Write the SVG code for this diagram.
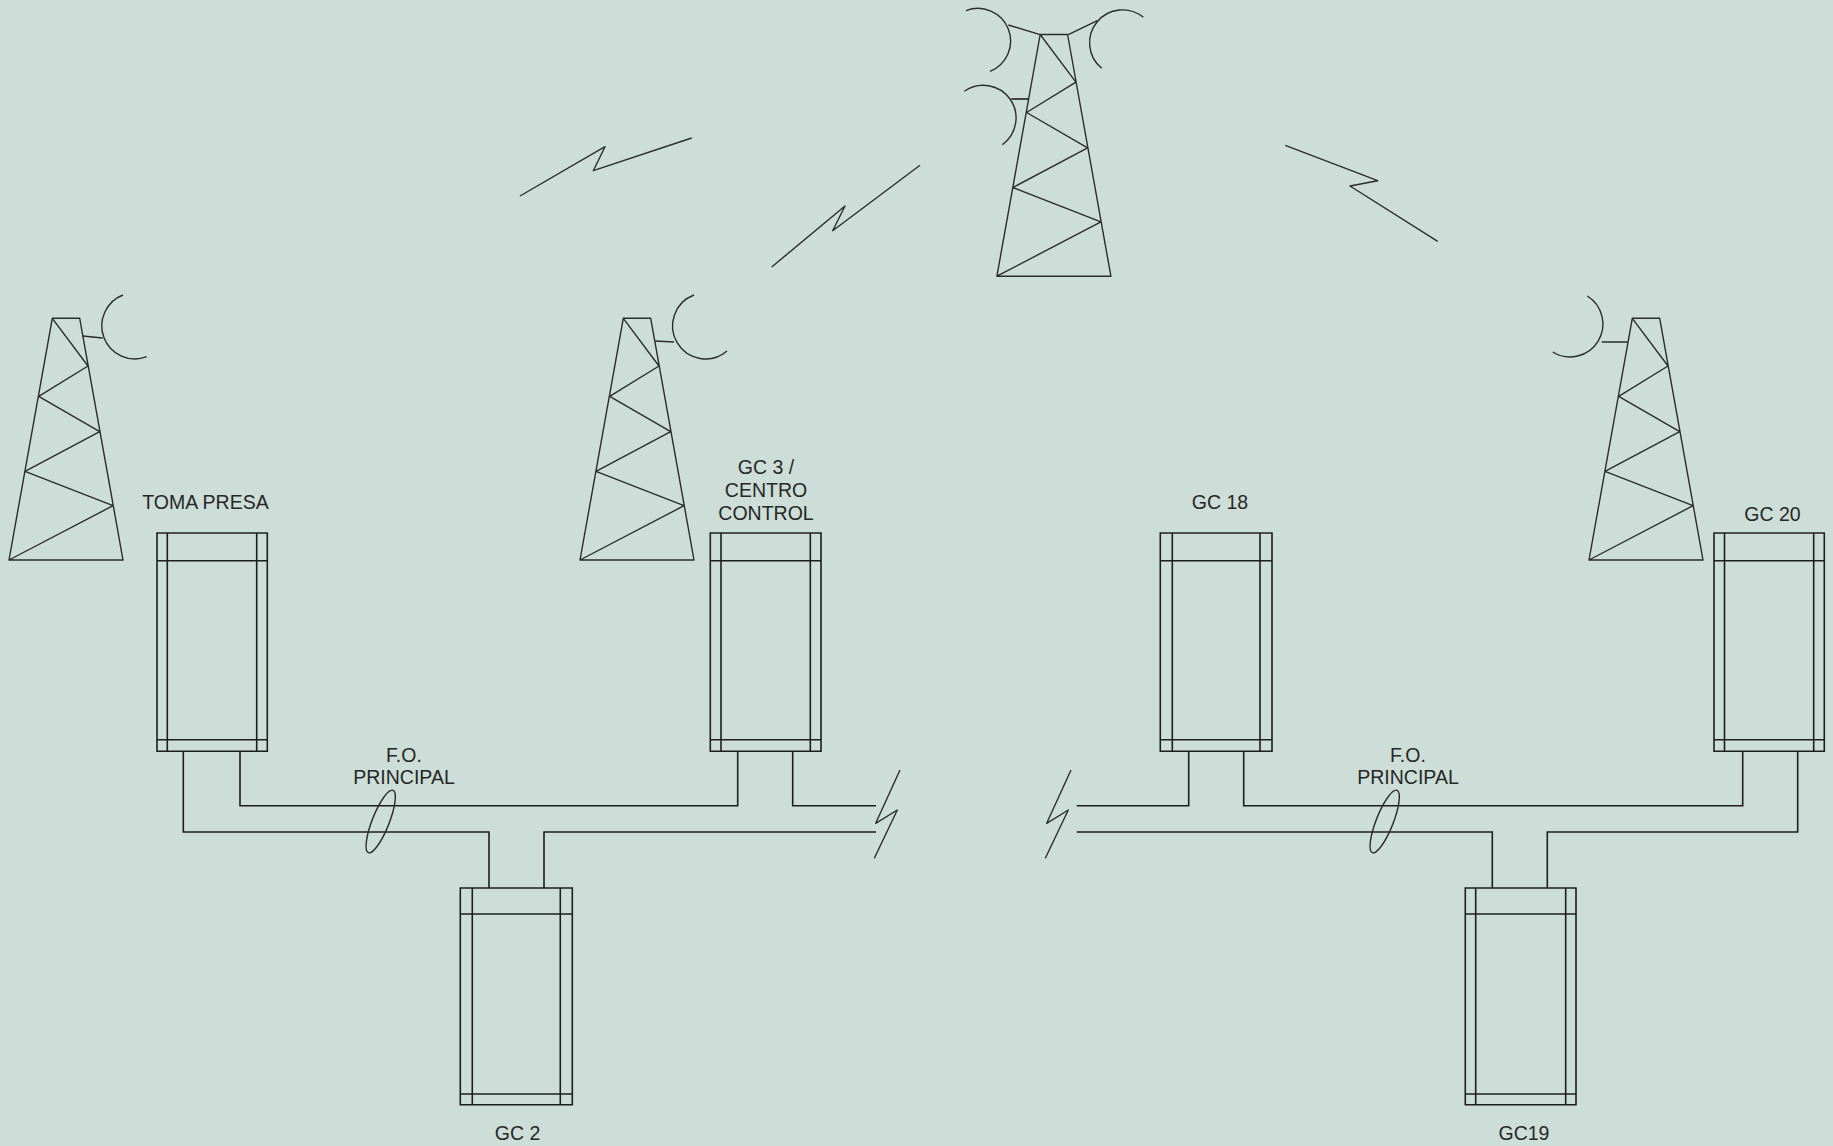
<svg xmlns="http://www.w3.org/2000/svg" width="1833" height="1146" viewBox="0 0 1833 1146">
<style>
.l{fill:none;stroke:#1c1f1e;stroke-width:1.6;stroke-linejoin:miter}
.t{fill:none;stroke:#2a2d2c;stroke-width:1.4;stroke-linejoin:round}
text{font-family:"Liberation Sans",Arial,sans-serif;font-size:19.5px;fill:#262827;text-anchor:middle}
</style>
<defs>
<g id="tower">
<path class="t" d="M52.3 318.3H79.7L123 560H9ZM52.3 318.3L88 366L38.7 396.3L99.7 431.7L25 471.3L113 505.7L9 560"/>
</g>
</defs>
<rect width="1833" height="1146" fill="#cdddd7"/>
<g id="connectors">
<path class="l" d="M183.3 751V832H489V888M544 888V832H876M240 751V805.7H737.7V751M792.7 751V805.7H876"/>
<path class="l" d="M1076.7 805.7H1188.7V751M1243.7 751V805.7H1742.7V751M1076.7 832H1492.3V888M1547.3 888V832H1797.7V751"/>
<path class="t" d="M900 770L875.7 823.3L897.3 810L874.3 858.3"/>
<path class="t" d="M1071 770L1046.7 823.3L1068.3 810L1045.3 858.3"/>
<path class="t" d="M520 196L605 146.7L593.3 170.7L691.7 138"/>
<path class="t" d="M771.7 267L845 206L832.7 230.7L920 165.3"/>
<path class="t" d="M1285.3 145.3L1377.7 180.7L1350 186L1437.7 241.3"/>
<ellipse class="t" cx="380.7" cy="821.5" rx="8.5" ry="33.5" transform="rotate(21.6 380.7 821.5)"/>
<ellipse class="t" cx="1384.7" cy="821.5" rx="8.5" ry="33.5" transform="rotate(21.6 1384.7 821.5)"/>
</g>
<g id="tower-main">
<use href="#tower" transform="translate(987.9 -283.8)"/>
<path class="t" d="M966 10.7A30 30 0 0 1 990 71.3M1008.3 25L1040 34.7"/>
<path class="t" d="M1143.3 17.3A30 30 0 0 0 1101.7 68.3M1068.3 34.7L1097.3 20.7"/>
<path class="t" d="M964.3 91.3A30 30 0 0 1 1002.3 144.7"/>
<path class="l" d="M1011.3 99H1029"/>
</g>
<g id="tower-left">
<use href="#tower"/>
<path class="t" d="M123 295A30 30 0 0 0 146.7 356.7M82.7 336L102.7 338"/>
</g>
<g id="tower-center">
<use href="#tower" transform="translate(571 0)"/>
<path class="t" d="M694 295A33 33 0 1 0 727 351M655 341L674 342"/>
</g>
<g id="tower-right">
<use href="#tower" transform="translate(1580 0)"/>
<path class="t" d="M1587.3 296A30 30 0 0 1 1552.7 352M1601.7 342H1628"/>
</g>
<g id="toma-presa">
<path class="l" d="M157 533H267.3V751.3H157ZM167.3 533V751.3M256.7 533V751.3M157 560.7H267.3M157 739.7H267.3"/>
<text x="205.5" y="508.5">TOMA PRESA</text>
</g>
<g id="gc3">
<path class="l" d="M710.3 533H821V751.3H710.3ZM721 533V751.3M810.3 533V751.3M710.3 560.7H821M710.3 739.7H821"/>
<text x="766" y="473.5">GC 3 /</text>
<text x="766" y="496.5">CENTRO</text>
<text x="766" y="519.5">CONTROL</text>
</g>
<g id="gc2">
<path class="l" d="M460.3 888H572.3V1104.7H460.3ZM472.3 888V1104.7M560.3 888V1104.7M460.3 914H572.3M460.3 1094H572.3"/>
<text x="517.5" y="1139.5">GC 2</text>
</g>
<g id="fo-left">
<text x="404" y="761.5">F.O.</text>
<text x="404" y="784">PRINCIPAL</text>
</g>
<g id="gc18">
<path class="l" d="M1160.3 533H1272V751.3H1160.3ZM1172.3 533V751.3M1260 533V751.3M1160.3 560.7H1272M1160.3 739.7H1272"/>
<text x="1220" y="508.5">GC 18</text>
</g>
<g id="gc20">
<path class="l" d="M1714 533H1824.3V751.3H1714ZM1724.5 533V751.3M1813.7 533V751.3M1714 560.7H1824.3M1714 739.7H1824.3"/>
<text x="1772.5" y="521">GC 20</text>
</g>
<g id="gc19">
<path class="l" d="M1465.3 888H1576V1104.7H1465.3ZM1475.7 888V1104.7M1565.7 888V1104.7M1465.3 914H1576M1465.3 1094H1576"/>
<text x="1524" y="1139.5">GC19</text>
</g>
<g id="fo-right">
<text x="1408" y="761.5">F.O.</text>
<text x="1408" y="784">PRINCIPAL</text>
</g>
</svg>
